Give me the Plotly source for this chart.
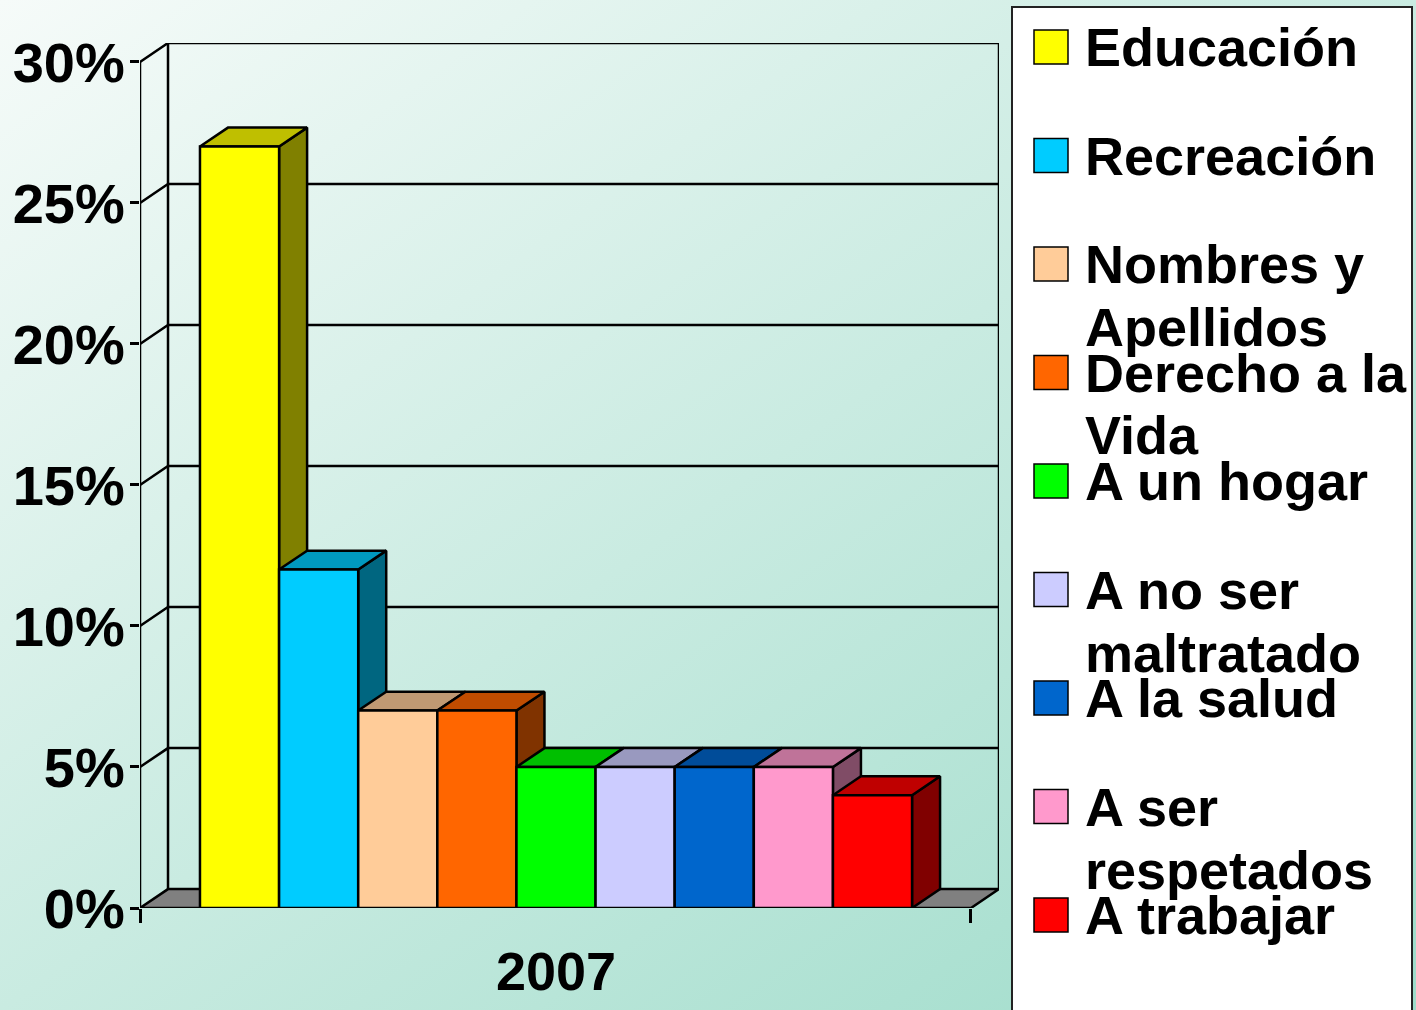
import base64
import plotly.graph_objects as go

# data
categories = ["Educación", "Recreación", "Nombres y<br>Apellidos", "Derecho a la<br>Vida", "A un hogar",
              "A no ser<br>maltratado", "A la salud", "A ser<br>respetados", "A trabajar"]
values = [27, 12, 7, 7, 5, 5, 5, 5, 4]
colors = ["#FFFF00", "#00CCFF", "#FFCC99", "#FF6600", "#00FF00",
          "#CCCCFF", "#0066CC", "#FF99CC", "#FF0000"]
year = "2007"
y_ticks = [0, 5, 10, 15, 20, 25, 30]
y_ticktext = ["0%", "5%", "10%", "15%", "20%", "25%", "30%"]

W, H = 1416, 1010
FONT = "Liberation Sans, Arial, sans-serif"
LW = 2.5

# 3d look: floor overhang and depth offset, in axis units
x0, x1 = -0.758, len(values) + 0.745
dx, dy = 0.354, 0.67
ymax = y_ticks[-1]


def shade(hexcol, f):
    r, g, b = int(hexcol[1:3], 16), int(hexcol[3:5], 16), int(hexcol[5:7], 16)
    return "rgb(%d,%d,%d)" % (round(r * f), round(g * f), round(b * f))


def poly(xs, ys, fill):
    return go.Scatter(x=xs + [xs[0]], y=ys + [ys[0]], mode="lines", fill="toself",
                      fillcolor=fill, line=dict(color="black", width=LW),
                      hoverinfo="skip", showlegend=False)


fig = go.Figure()

# floor
fig.add_trace(poly([x0, x1, x1 + dx, x0 + dx], [0, 0, dy, dy], "#808080"))

# walls + gridlines
wx, wy = [], []
wx += [x0, x0, None, x0 + dx, x0 + dx, None, x1 + dx, x1 + dx, None]
wy += [0, ymax, None, dy, ymax + dy, None, dy, ymax + dy, None]
for k in y_ticks[1:]:
    wx += [x0, x0 + dx, x1 + dx, None]
    wy += [k, k + dy, k + dy, None]
fig.add_trace(go.Scatter(x=wx, y=wy, mode="lines", line=dict(color="black", width=LW),
                         hoverinfo="skip", showlegend=False))

# bars, left to right so nearer faces cover hidden ones
for i, (v, c) in enumerate(zip(values, colors)):
    a, b = i, i + 1
    fig.add_trace(poly([b, b + dx, b + dx, b], [0, dy, v + dy, v], shade(c, 0.5)))
    fig.add_trace(poly([a, b, b + dx, a + dx], [v, v, v + dy, v + dy], shade(c, 0.75)))
    fig.add_trace(poly([a, b, b, a], [0, 0, v, v], c))

# background gradient
svg = ("<svg xmlns='http://www.w3.org/2000/svg' width='1416' height='1010' preserveAspectRatio='none'>"
       "<defs><linearGradient id='g' x1='0' y1='0' x2='1' y2='1'>"
       "<stop offset='0' stop-color='#f6fbf9'/><stop offset='1' stop-color='#9cdbc9'/>"
       "</linearGradient></defs><rect width='100%' height='100%' fill='url(#g)'/></svg>")
bg = "data:image/svg+xml;base64," + base64.b64encode(svg.encode()).decode()

# hand-made legend (fixed row pitch like the original)
shapes = [dict(type="rect", xref="paper", yref="paper", x0=1012 / W, x1=1412 / W, y0=-0.05, y1=1 - 7 / H,
               fillcolor="white", line=dict(color="#222222", width=2))]
annotations = []
for k, (name, c) in enumerate(zip(categories, colors)):
    yc = 47 + k * 108.5
    shapes.append(dict(type="rect", xref="paper", yref="paper", x0=1034 / W, x1=1068 / W,
                       y0=1 - (yc + 17) / H, y1=1 - (yc - 17) / H,
                       fillcolor=c, line=dict(color="black", width=1.5)))
    for j, line in enumerate(name.split("<br>")):
        annotations.append(dict(text=line, xref="paper", yref="paper", x=1083 / W, y=1 - (yc + j * 63) / H,
                                xanchor="left", yanchor="middle", showarrow=False,
                                font=dict(family=FONT, size=54, color="black", weight="bold")))

fig.update_layout(
    width=W, height=H, template="none",
    margin=dict(l=0, r=0, t=0, b=0),
    paper_bgcolor="white", plot_bgcolor="rgba(0,0,0,0)",
    showlegend=False,
    images=[dict(source=bg, xref="paper", yref="paper", x=0, y=1, sizex=1, sizey=1,
                 sizing="stretch", layer="below", xanchor="left", yanchor="top")],
    shapes=shapes, annotations=annotations,
    xaxis=dict(domain=[140 / W, 999 / W], range=[x0, x1 + dx], automargin=False,
               tickvals=[len(values) / 2], ticktext=[year], ticks="",
               showgrid=False, zeroline=False, showline=False, ticklabelstandoff=27,
               tickfont=dict(family=FONT, size=54, color="black", weight="bold"),
               minor=dict(tickmode="array", tickvals=[x0, x1], ticks="outside", ticklen=14,
                          tickwidth=LW, tickcolor="black", showgrid=False)),
    yaxis=dict(domain=[(H - 908) / H, (H - 43) / H], range=[0, ymax + dy], automargin=False,
               tickvals=y_ticks, ticktext=y_ticktext, ticks="outside", ticklen=9,
               tickwidth=LW, tickcolor="black", showgrid=False, zeroline=False, showline=False,
               ticklabelstandoff=-6,
               tickfont=dict(family=FONT, size=56, color="black", weight="bold")),
)

fig.write_html("out.html", config={"displayModeBar": False},
               post_script="document.body.style.margin='0px';")
